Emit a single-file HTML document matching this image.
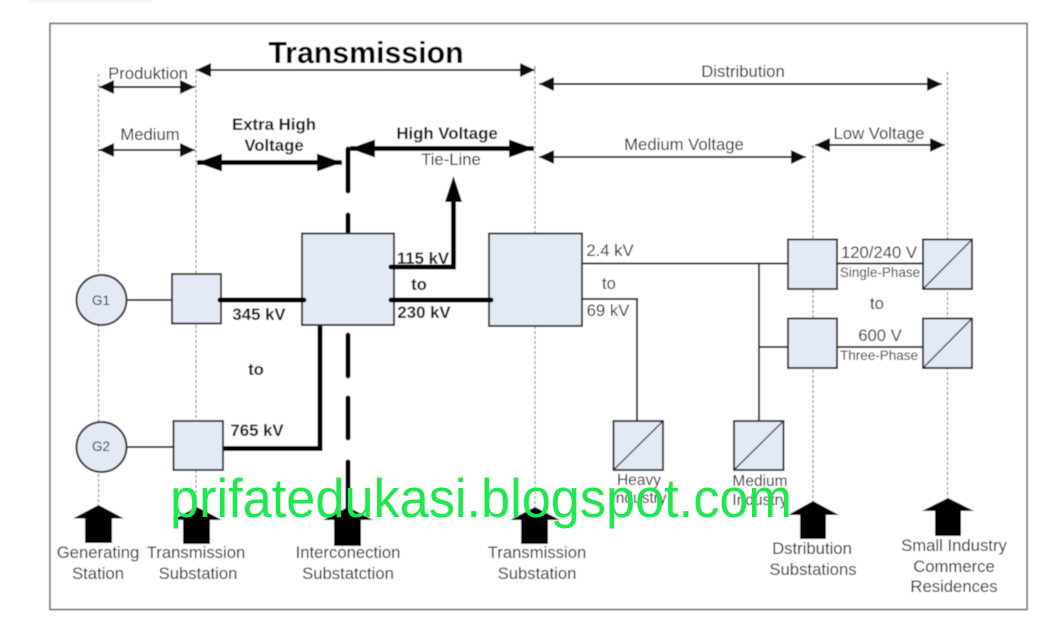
<!DOCTYPE html>
<html><head><meta charset="utf-8"><style>
html,body{margin:0;padding:0;background:#fff;width:1046px;height:621px;overflow:hidden}
svg{position:absolute;left:0;top:0}
text{font-family:"Liberation Sans",sans-serif;fill:#1c1c1c}
.b{font-weight:bold;fill:#0a0a0a}
</style></head><body>
<svg width="1046" height="621" viewBox="0 0 1046 621">
<defs>
<filter id="s" x="-2%" y="-2%" width="104%" height="104%"><feGaussianBlur stdDeviation="0.4"/></filter>
<marker id="m" markerUnits="userSpaceOnUse" markerWidth="15" markerHeight="14" refX="15" refY="7" orient="auto-start-reverse"><path d="M0,0L15,7L0,14Z" fill="#111"/></marker>
<marker id="t" markerUnits="userSpaceOnUse" markerWidth="25" markerHeight="18" refX="25" refY="9" orient="auto-start-reverse"><path d="M0,0L25,9L0,18Z" fill="#000"/></marker>
</defs>
<g filter="url(#s)">
<rect x="30" y="0" width="122" height="2" fill="#f4f4f4"/>
<rect x="50" y="23.500" width="977" height="586" fill="#fff" stroke="#666" stroke-width="1.500"/>
<g stroke="#555" stroke-width="1" stroke-dasharray="3 2" fill="none">
<path d="M98.500 74V505M196 70V507M535 66V507M813 145V501M947.500 72V498"/>
</g>
<g stroke="#111" stroke-width="2" fill="none">
<path d="M196 70H535" marker-start="url(#m)" marker-end="url(#m)"/>
<path d="M99 87H195" marker-start="url(#m)" marker-end="url(#m)"/>
<path d="M99 150H195" marker-start="url(#m)" marker-end="url(#m)"/>
<path d="M539 84H942" marker-start="url(#m)" marker-end="url(#m)"/>
<path d="M539 157H806" marker-start="url(#m)" marker-end="url(#m)"/>
<path d="M815 145H945" marker-start="url(#m)" marker-end="url(#m)"/>
</g>
<g stroke="#000" stroke-width="5" fill="none">
<path d="M197 162.500H342" marker-start="url(#t)" marker-end="url(#t)"/>
<path d="M350 148.500H534" marker-start="url(#t)" marker-end="url(#t)"/>
<path d="M348 149V191M348 215V234M348 335V376M348 398V438M348 462V508" stroke-linecap="round"/>
<path d="M320 325V448.500H223"/>
</g>
<path d="M453.500 176L462 202H445Z" fill="#000"/>
<g stroke="#222" stroke-width="2" fill="none">
<path d="M126 300H172M127 447H173M582 263.500H788M582 299H637V421M759 263.500V421M759 347H788M837 263.500H923M837 347H923"/>
</g>
<g fill="#e3e9f5" stroke="#2a2a2a" stroke-width="2">
<circle cx="101.500" cy="300" r="25"/>
<circle cx="101.500" cy="447" r="25"/>
<rect x="172" y="274" width="49" height="49.500"/>
<rect x="173.500" y="421" width="49.500" height="49"/>
<rect x="302" y="233.500" width="92" height="91.500"/>
<rect x="489" y="233.500" width="93" height="92.500"/>
<rect x="788" y="239.500" width="49" height="49.500"/>
<rect x="788" y="318.500" width="49" height="49.500"/>
<rect x="923" y="239.500" width="49" height="49.500"/>
<rect x="923" y="318.500" width="49" height="49.500"/>
<rect x="613.500" y="421" width="49.500" height="49"/>
<rect x="734" y="421" width="49.500" height="49"/>
</g>
<g stroke="#000" stroke-width="5" fill="none" stroke-linecap="round">
<path d="M220 300H304M391 300H491M391 267H453.500V198"/>
</g>
<g stroke="#333" stroke-width="1.300">
<path d="M923 289L972 239.500M923 368L972 318.500M613.500 470L663 421M734 470L783.500 421"/>
</g>
<g fill="#000">
<path d="M98.500 505L124 518.500H112V543H85V518.500H73Z"/>
<path d="M197 507L222 520H210V544H183V520H172Z"/>
<path d="M348 507L373 520H361V546H334V520H323Z"/>
<path d="M535 507L560 520H548V544H521V520H510Z"/>
<path d="M813 501L839 515H826V539H800V515H788Z"/>
<path d="M948 498L974 511H961V536H935V511H922Z"/>
</g>
<text x="366" y="63" text-anchor="middle" class="b" font-size="30.300" style="fill:#000">Transmission</text>
<g font-size="16.700" text-anchor="middle">
<text x="148" y="79">Produktion</text>
<text x="150" y="140">Medium</text>
<text x="743" y="77">Distribution</text>
<text x="684" y="150">Medium Voltage</text>
<text x="879" y="139">Low Voltage</text>
<text x="451" y="165">Tie-Line</text>
<text x="101" y="451" font-size="13.500">G2</text>
<text x="101" y="305" font-size="13.500">G1</text>
<text x="98" y="558">Generating</text><text x="98" y="579">Station</text>
<text x="196" y="558">Transmission</text><text x="198" y="579">Substation</text>
<text x="348" y="558">Interconection</text><text x="348" y="579">Substatction</text>
<text x="537" y="558">Transmission</text><text x="537" y="579">Substation</text>
<text x="812" y="554">Dstribution</text><text x="813" y="575">Substations</text>
<text x="954" y="551">Small Industry</text><text x="954" y="572">Commerce</text><text x="954" y="592">Residences</text>
<text x="639" y="485" font-size="15.500">Heavy</text><text x="639" y="503" font-size="15.500">Industry</text>
<text x="760" y="486" font-size="15.500">Medium</text><text x="760" y="505" font-size="15.500">Industry</text>
<text x="610" y="256">2.4 kV</text>
<text x="609" y="289">to</text>
<text x="608" y="316">69 kV</text>
<text x="879" y="258">120/240 V</text>
<text x="880" y="277" font-size="13.500">Single-Phase</text>
<text x="877" y="309">to</text>
<text x="880" y="341">600 V</text>
<text x="879" y="360" font-size="13.500">Three-Phase</text>
</g>
<g font-size="16.800" text-anchor="middle">
<text class="b" x="274" y="130">Extra High</text>
<text class="b" x="274" y="151">Voltage</text>
<text class="b" x="447" y="139">High Voltage</text>
<text class="b" x="423" y="264">115 kV</text>
<text class="b" x="419" y="290">to</text>
<text class="b" x="424" y="318">230 kV</text>
<text class="b" x="259" y="320">345 kV</text>
<text class="b" x="256" y="375">to</text>
<text class="b" x="257" y="436">765 kV</text>
</g>
</g>
<text x="170" y="517" font-size="55" textLength="622" lengthAdjust="spacingAndGlyphs" style="fill:#1fe84f">prifatedukasi.blogspot.com</text>
</svg>
</body></html>
